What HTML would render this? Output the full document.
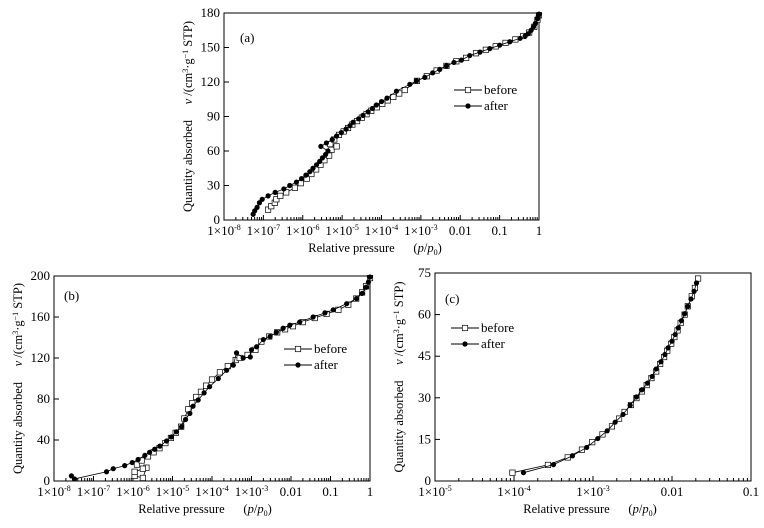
<!DOCTYPE html>
<html><head><meta charset="utf-8">
<style>
html,body{margin:0;padding:0;background:#fff;}
svg{display:block;font-family:"Liberation Serif",serif;}
</style></head>
<body>
<svg id="chart" width="764" height="528" viewBox="0 0 764 528"></svg>
<script>
// ---- data (log10 p, v) ----
const aAfterX=[-7.26,-7.22,-7.16,-7.1,-7.03,-6.88,-6.7,-6.48,-6.33,-6.16,-6.03,-5.92,-5.82,-5.74,-5.65,-5.57,-5.5,-5.42,-5.36,-5.54,-5.4,-5.25,-5.14,-5.02,-4.9,-4.8,-4.72,-4.58,-4.47,-4.34,-4.23,-4.13,-4.0,-3.86,-3.62,-3.28,-3.11,-2.9,-2.7,-2.52,-2.35,-2.16,-1.97,-1.76,-1.5,-1.25,-1.0,-0.74,-0.48,-0.35,-0.27,-0.2,-0.14,-0.09,-0.04,-0.02,0];
const aAfterY=[5,8,11,15,18,21,24,27,30,33,36,39,42,45,48,51,54,57,60,64,67,70,73,76,79,82,85,88,91,94,97,100,103,106,112,118,121,124,128,131,134,137,139,143,146,149,152,155,158,160,162,165,168,171,175,177,179];
const aBeforeX=[-6.88,-6.8,-6.71,-6.67,-6.57,-6.42,-6.2,-6.05,-5.9,-5.78,-5.66,-5.55,-5.45,-5.33,-5.27,-5.14,-5.3,-5.2,-5.08,-4.96,-4.85,-4.74,-4.62,-4.5,-4.38,-4.26,-4.12,-3.98,-3.84,-3.7,-3.55,-3.41,-3.1,-2.85,-2.6,-2.35,-2.1,-1.85,-1.6,-1.35,-1.1,-0.85,-0.6,-0.4,-0.25,-0.12,-0.04,0];
const aBeforeY=[9,12,15,18,21,24,28,32,36,40,44,48,52,56,61,64,66,70,74,77,80,83,86,89,92,95,98,101,104,107,110,113,121,125,130,134,138,141,145,148,151,154,157,160,163,168,174,178];
const bAfterX=[-7.56,-7.48,-6.67,-6.5,-6.21,-6.02,-5.87,-5.7,-5.58,-5.45,-5.32,-5.15,-5.03,-4.9,-4.77,-4.67,-4.56,-4.48,-4.35,-4.2,-4.06,-3.84,-3.63,-3.46,-3.38,-3.21,-3.03,-3.0,-2.87,-2.7,-2.53,-2.37,-2.2,-2.03,-1.78,-1.44,-1.14,-0.93,-0.59,-0.34,-0.2,-0.1,-0.04,0];
const bAfterY=[5,2,9,12,15,18,21,25,28,31,34,39,43,48,53,60,66,73,79,86,92,100,108,113,125,120,121,128,131,138,141,145,149,152,155,160,164,167,173,178,183,189,194,199];
const bBeforeX=[-5.96,-5.75,-5.66,-5.96,-5.75,-5.9,-5.78,-5.62,-5.48,-5.33,-5.18,-5.04,-4.92,-4.78,-4.7,-4.6,-4.5,-4.4,-4.28,-4.15,-4.0,-3.8,-3.6,-3.4,-3.3,-3.1,-2.9,-2.75,-2.55,-2.35,-2.15,-1.95,-1.7,-1.4,-1.1,-0.8,-0.55,-0.35,-0.2,-0.1,0];
const bBeforeY=[5,3,13,9,12,16,20,24,28,32,37,42,47,53,61,70,76,82,87,93,99,106,112,118,120,123,128,136,141,145,148,151,155,159,163,167,172,178,184,190,198];
const cBeforeX=[-4.02,-3.57,-3.32,-3.14,-3.01,-2.88,-2.76,-2.67,-2.6,-2.52,-2.45,-2.38,-2.32,-2.26,-2.2,-2.15,-2.1,-2.06,-2.01,-1.97,-1.93,-1.89,-1.84,-1.8,-1.75,-1.71,-1.67];
const cBeforeY=[3,5.8,8.5,11.3,14,16.8,19.7,22.5,24.9,27.4,29.9,32.3,34.6,37.1,39.5,42.2,44.7,47,49.5,51.9,54.3,57,60,63,66.6,69.6,73];
const cAfterX=[-3.88,-3.5,-3.26,-3.08,-2.94,-2.82,-2.72,-2.62,-2.53,-2.45,-2.38,-2.31,-2.25,-2.2,-2.14,-2.09,-2.05,-2.0,-1.96,-1.92,-1.88,-1.84,-1.8,-1.76,-1.72,-1.69];
const cAfterY=[3,5.9,9.1,12.1,15.3,18.1,21.2,24,27.3,30.3,32.9,35.3,37.7,40.4,43,45.6,48,50.4,52.8,55.2,57.8,60.3,63,65.6,68.4,71.4];
const aYTicks=[0,30,60,90,120,150,180];
const bYTicks=[0,40,80,120,160,200];
const cYTicks=[0,15,30,45,60,75];
const abXLabels=[["1×10","-8"],["1×10","-7"],["1×10","-6"],["1×10","-5"],["1×10","-4"],["1×10","-3"],["0.01",""],["0.1",""],["1",""]];
const cXLabels=[["1×10","-5"],["1×10","-4"],["1×10","-3"],["0.01",""],["0.1",""]];

const NS="http://www.w3.org/2000/svg";
const svg=document.getElementById('chart');
function mk(tag,attrs,parent){const e=document.createElementNS(NS,tag);for(const k in attrs)e.setAttribute(k,attrs[k]);(parent||svg).appendChild(e);return e;}

function panel(p){
  const g=mk('g',{});
  
  
  const sx=v=>p.x0+(v-p.lmin)/(p.lmax-p.lmin)*(p.x1-p.x0);
  const sy=v=>p.y1-(v/p.ymax)*(p.y1-p.y0);
  const fr=mk('rect',{x:p.x0,y:p.y0,width:p.x1-p.x0,height:p.y1-p.y0,fill:'none',stroke:'#000','stroke-width':1},g);
  
  
  for(let d=p.lmin;d<=p.lmax;d++){
    const X=sx(d);
    mk('line',{x1:X,x2:X,y1:p.y1,y2:p.y1-5,stroke:'#000'},g);
    const lab=p.xl[d-p.lmin];
    const t=mk('text',{x:X,y:p.y1+15,'text-anchor':'middle','font-size':13},g);
    
    
    t.textContent=lab[0];
    if(lab[1]){const s=mk('tspan',{dy:-5,'font-size':8},t);s.textContent=lab[1];}
    if(d<p.lmax){for(let m=2;m<10;m++){const Xm=sx(d+Math.log10(m));mk('line',{x1:Xm,x2:Xm,y1:p.y1,y2:p.y1-3,stroke:'#000'},g);}}
  }
  p.yt.forEach(v=>{
    const Y=sy(v);
    mk('line',{x1:p.x0,x2:p.x0+5,y1:Y,y2:Y,stroke:'#000'},g);
    const t=mk('text',{x:p.x0-4,y:Y+4,'text-anchor':'end','font-size':13},g);
    
    
    t.textContent=v;
  });
  function series(xs,ys,filled,nm){
    const sg=mk('g',{},g);
    
    
    mk('polyline',{points:xs.map((x,i)=>sx(x)+','+sy(ys[i])).join(' '),fill:'none',stroke:'#000','stroke-width':0.8},sg);
    xs.forEach((x,i)=>{
      if(filled) mk('circle',{cx:sx(x),cy:sy(ys[i]),r:2.6,fill:'#000'},sg);
      else mk('rect',{x:sx(x)-2.7,y:sy(ys[i])-2.7,width:5.4,height:5.4,fill:'#fff',stroke:'#000','stroke-width':0.7},sg);
    });
  }
  series(p.bx,p.by,false,'series-before');
  series(p.ax,p.ay,true,'series-after');
  const L=p.leg;
  const lg=mk('g',{},g);
  
  
  mk('line',{x1:L[0],x2:L[0]+28,y1:L[1],y2:L[1],stroke:'#000'},lg);
  mk('rect',{x:L[0]+11.3,y:L[1]-2.7,width:5.4,height:5.4,fill:'#fff',stroke:'#000','stroke-width':0.7},lg);
  const t1=mk('text',{x:L[0]+30,y:L[1]+4,'font-size':13},lg);t1.textContent='before';
  mk('line',{x1:L[0],x2:L[0]+28,y1:L[1]+16,y2:L[1]+16,stroke:'#000'},lg);
  mk('circle',{cx:L[0]+14,cy:L[1]+16,r:2.6,fill:'#000'},lg);
  const t2=mk('text',{x:L[0]+30,y:L[1]+20,'font-size':13},lg);t2.textContent='after';
  const pl=mk('text',{x:p.lab[0],y:p.lab[1],'font-size':13},g);
  
  
  pl.textContent=p.labText;
  const cy=(p.y0+p.y1)/2;
  const yt=mk('text',{x:0,y:0,'font-size':12.5,'text-anchor':'middle',transform:`translate(${p.ytx},${cy}) rotate(-90)`},g);
  
  
  yt.innerHTML='Quantity absorbed\u00a0\u00a0\u00a0\u00a0\u00a0<tspan font-style="italic">v</tspan> /(cm<tspan dy="-4" font-size="8">3</tspan><tspan dy="4">·g</tspan><tspan dy="-4" font-size="8">−1</tspan><tspan dy="4"> STP)</tspan>';
  const xt=mk('text',{x:p.xtx,y:p.y1+32,'font-size':12.5,'text-anchor':'middle'},g);
  
  
  xt.innerHTML='Relative pressure\u00a0\u00a0\u00a0\u00a0\u00a0 (<tspan font-style="italic">p</tspan>/<tspan font-style="italic">p</tspan><tspan dy="3" font-size="8">0</tspan><tspan dy="-3">)</tspan>';
}

panel({name:'panel-a',x0:224,x1:539,y0:13,y1:220,lmin:-8,lmax:0,ymax:180,yt:aYTicks,xl:abXLabels,
  ax:aAfterX,ay:aAfterY,bx:aBeforeX,by:aBeforeY,leg:[454,90],lab:[240,42],labText:'(a)',ytx:192,xtx:375});
panel({name:'panel-b',x0:54,x1:370,y0:276,y1:481,lmin:-8,lmax:0,ymax:200,yt:bYTicks,xl:abXLabels,
  ax:bAfterX,ay:bAfterY,bx:bBeforeX,by:bBeforeY,leg:[284,349],lab:[64,300],labText:'(b)',ytx:22,xtx:205});
panel({name:'panel-c',x0:435,x1:751,y0:273,y1:481,lmin:-5,lmax:-1,ymax:75,yt:cYTicks,xl:cXLabels,
  ax:cAfterX,ay:cAfterY,bx:cBeforeX,by:cBeforeY,leg:[451,328],lab:[445,303],labText:'(c)',ytx:403,xtx:590});
</script>
</body></html>
